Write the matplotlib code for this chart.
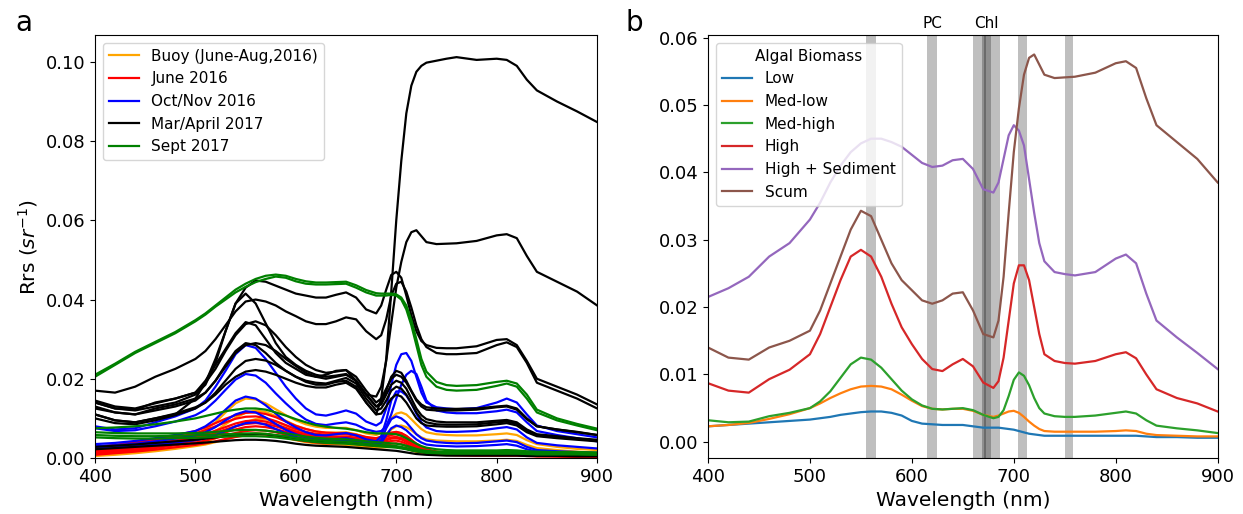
import matplotlib
matplotlib.use('Agg')
import matplotlib.pyplot as plt

# shared wavelength grid (nm)
wl = [400, 420, 440, 460, 480, 500, 510, 520, 530, 540, 550, 560, 570, 580, 590, 600, 610, 620, 630, 640,
      650, 660, 670, 680, 685, 690, 695, 700, 705, 710, 715, 720, 725, 730, 740, 750, 760, 780, 800, 810,
      820, 830, 840, 860, 880, 900]

# ---- panel b: mean spectra per algal biomass class
low = [0.0023, 0.0025, 0.0027, 0.0029, 0.0031, 0.0033, 0.0035, 0.0037, 0.0040, 0.0042, 0.0044, 0.0045, 0.0045, 0.0043, 0.0039, 0.0031, 0.0027, 0.0026, 0.0025, 0.0025,
       0.0025, 0.0023, 0.0021, 0.0021, 0.0021, 0.0020, 0.0019, 0.0018, 0.0016, 0.0014, 0.0012, 0.0011, 0.0010, 0.0009, 0.0009, 0.0009, 0.0009, 0.0009, 0.0009, 0.0009,
       0.0009, 0.0008, 0.0007, 0.0007, 0.0006, 0.0006]
medlow = [0.0023, 0.0025, 0.0028, 0.0034, 0.0041, 0.0050, 0.0057, 0.0065, 0.0072, 0.0078, 0.0082, 0.0083, 0.0082, 0.0078, 0.0070, 0.0061, 0.0053, 0.0049, 0.0048, 0.0049,
          0.0049, 0.0046, 0.0040, 0.0037, 0.0039, 0.0042, 0.0045, 0.0046, 0.0043, 0.0037, 0.0030, 0.0024, 0.0019, 0.0016, 0.0015, 0.0015, 0.0015, 0.0015, 0.0016, 0.0017,
          0.0016, 0.0012, 0.0010, 0.0009, 0.0008, 0.0008]
medhigh = [0.0032, 0.0029, 0.0030, 0.0038, 0.0043, 0.0050, 0.0060, 0.0075, 0.0095, 0.0115, 0.0125, 0.0122, 0.0110, 0.0093, 0.0076, 0.0063, 0.0054, 0.0049, 0.0048, 0.0049,
           0.0050, 0.0047, 0.0040, 0.0035, 0.0037, 0.0047, 0.0068, 0.0092, 0.0103, 0.0098, 0.0084, 0.0065, 0.0050, 0.0042, 0.0038, 0.0037, 0.0037, 0.0039, 0.0043, 0.0045,
           0.0042, 0.0032, 0.0024, 0.0020, 0.0017, 0.0013]
high = [0.0087, 0.0076, 0.0073, 0.0093, 0.0107, 0.0130, 0.0160, 0.0200, 0.0240, 0.0275, 0.0285, 0.0275, 0.0245, 0.0205, 0.0170, 0.0145, 0.0123, 0.0108, 0.0105, 0.0115,
        0.0123, 0.0112, 0.0088, 0.0080, 0.0090, 0.0125, 0.0180, 0.0235, 0.0262, 0.0262, 0.0240, 0.0200, 0.0160, 0.0130, 0.0120, 0.0117, 0.0116, 0.0120, 0.0130, 0.0133,
        0.0124, 0.0100, 0.0078, 0.0065, 0.0057, 0.0045]
high_sed = [0.0215, 0.0228, 0.0245, 0.0275, 0.0295, 0.0330, 0.0355, 0.0385, 0.0410, 0.0430, 0.0443, 0.0450, 0.0450, 0.0445, 0.0438, 0.0426, 0.0414, 0.0408, 0.0410, 0.0418,
            0.0420, 0.0405, 0.0375, 0.0370, 0.0385, 0.0420, 0.0455, 0.0470, 0.0462, 0.0440, 0.0390, 0.0340, 0.0295, 0.0268, 0.0252, 0.0249, 0.0247, 0.0252, 0.0272, 0.0278,
            0.0265, 0.0220, 0.0180, 0.0155, 0.0132, 0.0108]
scum = [0.0140, 0.0125, 0.0122, 0.0140, 0.0150, 0.0165, 0.0195, 0.0235, 0.0275, 0.0315, 0.0343, 0.0335, 0.0300, 0.0265, 0.0240, 0.0225, 0.0210, 0.0205, 0.0210, 0.0220,
        0.0222, 0.0195, 0.0160, 0.0155, 0.0180, 0.0245, 0.0340, 0.0430, 0.0495, 0.0545, 0.0570, 0.0575, 0.0560, 0.0545, 0.0540, 0.0541, 0.0542, 0.0548, 0.0562, 0.0565,
        0.0555, 0.0510, 0.0470, 0.0445, 0.0420, 0.0385]
biomass_names = ['Low', 'Med-low', 'Med-high', 'High', 'High + Sediment', 'Scum']
biomass_curves = [low, medlow, medhigh, high, high_sed, scum]

# absorption bands (nm) and their labels
bands = [(555, 565), (615, 625), (660, 678), (669, 686), (671, 673), (704, 713), (750, 758)]
band_labels = ['PC', 'Chl']
band_label_pos = [620, 673]

# ---- panel a: all field spectra per campaign
buoy = [
    [0.0020, 0.0025, 0.0030, 0.0038, 0.0048, 0.0060, 0.0072, 0.0090, 0.0115, 0.0138, 0.0150, 0.0148, 0.0138, 0.0123, 0.0108, 0.0095, 0.0085, 0.0079, 0.0076, 0.0076,
     0.0076, 0.0070, 0.0062, 0.0058, 0.0063, 0.0080, 0.0100, 0.0112, 0.0115, 0.0110, 0.0098, 0.0085, 0.0073, 0.0065, 0.0060, 0.0058, 0.0057, 0.0057, 0.0060, 0.0062,
     0.0058, 0.0045, 0.0035, 0.0028, 0.0023, 0.0020],
    [0.0012, 0.0016, 0.0021, 0.0028, 0.0036, 0.0046, 0.0055, 0.0068, 0.0085, 0.0102, 0.0114, 0.0120, 0.0116, 0.0106, 0.0094, 0.0082, 0.0073, 0.0067, 0.0064, 0.0064,
     0.0065, 0.0060, 0.0052, 0.0048, 0.0050, 0.0060, 0.0072, 0.0080, 0.0082, 0.0078, 0.0070, 0.0060, 0.0052, 0.0047, 0.0044, 0.0043, 0.0042, 0.0042, 0.0044, 0.0046,
     0.0043, 0.0033, 0.0025, 0.0020, 0.0016, 0.0013],
    [0.0008, 0.0011, 0.0015, 0.0020, 0.0026, 0.0034, 0.0040, 0.0050, 0.0064, 0.0079, 0.0091, 0.0098, 0.0098, 0.0092, 0.0082, 0.0071, 0.0062, 0.0056, 0.0053, 0.0053,
     0.0054, 0.0050, 0.0044, 0.0040, 0.0040, 0.0045, 0.0050, 0.0052, 0.0050, 0.0045, 0.0038, 0.0030, 0.0024, 0.0020, 0.0016, 0.0014, 0.0013, 0.0012, 0.0012, 0.0013,
     0.0012, 0.0010, 0.0008, 0.0007, 0.0006, 0.0005],
    [0.0005, 0.0008, 0.0012, 0.0017, 0.0023, 0.0030, 0.0034, 0.0040, 0.0047, 0.0054, 0.0059, 0.0062, 0.0061, 0.0057, 0.0051, 0.0045, 0.0040, 0.0037, 0.0035, 0.0034,
     0.0033, 0.0031, 0.0028, 0.0026, 0.0026, 0.0027, 0.0028, 0.0028, 0.0026, 0.0023, 0.0019, 0.0015, 0.0012, 0.0010, 0.0008, 0.0007, 0.0007, 0.0007, 0.0007, 0.0007,
     0.0007, 0.0006, 0.0005, 0.0005, 0.0004, 0.0004],
]
june = [
    [0.0025, 0.0030, 0.0036, 0.0044, 0.0052, 0.0062, 0.0070, 0.0080, 0.0090, 0.0099, 0.0104, 0.0105, 0.0101, 0.0093, 0.0083, 0.0073, 0.0066, 0.0061, 0.0059, 0.0059,
     0.0060, 0.0056, 0.0050, 0.0048, 0.0052, 0.0058, 0.0063, 0.0065, 0.0062, 0.0055, 0.0045, 0.0035, 0.0027, 0.0021, 0.0015, 0.0012, 0.0011, 0.0010, 0.0010, 0.0010,
     0.0010, 0.0008, 0.0007, 0.0006, 0.0005, 0.0005],
    [0.0018, 0.0023, 0.0029, 0.0036, 0.0044, 0.0053, 0.0060, 0.0069, 0.0078, 0.0087, 0.0093, 0.0095, 0.0092, 0.0085, 0.0076, 0.0067, 0.0060, 0.0055, 0.0053, 0.0053,
     0.0054, 0.0051, 0.0046, 0.0044, 0.0047, 0.0053, 0.0058, 0.0060, 0.0057, 0.0050, 0.0041, 0.0032, 0.0025, 0.0019, 0.0014, 0.0011, 0.0010, 0.0009, 0.0009, 0.0009,
     0.0009, 0.0007, 0.0006, 0.0005, 0.0005, 0.0004],
    [0.0015, 0.0020, 0.0026, 0.0033, 0.0040, 0.0049, 0.0055, 0.0063, 0.0072, 0.0080, 0.0086, 0.0088, 0.0086, 0.0080, 0.0072, 0.0064, 0.0057, 0.0052, 0.0050, 0.0050,
     0.0051, 0.0048, 0.0043, 0.0041, 0.0043, 0.0048, 0.0052, 0.0053, 0.0050, 0.0044, 0.0036, 0.0028, 0.0022, 0.0017, 0.0013, 0.0010, 0.0009, 0.0008, 0.0008, 0.0008,
     0.0008, 0.0007, 0.0006, 0.0005, 0.0004, 0.0004],
    [0.0012, 0.0017, 0.0022, 0.0029, 0.0036, 0.0044, 0.0050, 0.0057, 0.0065, 0.0072, 0.0078, 0.0080, 0.0078, 0.0073, 0.0066, 0.0059, 0.0053, 0.0049, 0.0047, 0.0047,
     0.0048, 0.0045, 0.0040, 0.0038, 0.0040, 0.0045, 0.0049, 0.0050, 0.0047, 0.0041, 0.0034, 0.0026, 0.0020, 0.0016, 0.0012, 0.0009, 0.0008, 0.0008, 0.0008, 0.0008,
     0.0008, 0.0006, 0.0005, 0.0005, 0.0004, 0.0004],
    [0.0010, 0.0014, 0.0019, 0.0025, 0.0032, 0.0039, 0.0044, 0.0050, 0.0057, 0.0063, 0.0068, 0.0070, 0.0069, 0.0065, 0.0059, 0.0053, 0.0048, 0.0045, 0.0043, 0.0043,
     0.0044, 0.0041, 0.0037, 0.0035, 0.0036, 0.0040, 0.0043, 0.0044, 0.0041, 0.0036, 0.0029, 0.0023, 0.0018, 0.0014, 0.0011, 0.0009, 0.0008, 0.0007, 0.0007, 0.0007,
     0.0007, 0.0006, 0.0005, 0.0004, 0.0004, 0.0003],
    [0.0008, 0.0012, 0.0016, 0.0021, 0.0027, 0.0033, 0.0037, 0.0042, 0.0048, 0.0053, 0.0057, 0.0060, 0.0059, 0.0056, 0.0051, 0.0046, 0.0042, 0.0039, 0.0037, 0.0037,
     0.0038, 0.0035, 0.0032, 0.0030, 0.0031, 0.0034, 0.0036, 0.0037, 0.0035, 0.0030, 0.0025, 0.0020, 0.0016, 0.0012, 0.0010, 0.0008, 0.0007, 0.0006, 0.0006, 0.0006,
     0.0006, 0.0005, 0.0004, 0.0004, 0.0003, 0.0003],
    [0.0028, 0.0033, 0.0040, 0.0048, 0.0057, 0.0068, 0.0077, 0.0088, 0.0099, 0.0108, 0.0114, 0.0115, 0.0111, 0.0103, 0.0092, 0.0081, 0.0073, 0.0067, 0.0064, 0.0063,
     0.0063, 0.0059, 0.0053, 0.0050, 0.0054, 0.0060, 0.0064, 0.0066, 0.0063, 0.0056, 0.0046, 0.0036, 0.0028, 0.0022, 0.0016, 0.0013, 0.0012, 0.0011, 0.0011, 0.0011,
     0.0011, 0.0009, 0.0008, 0.0007, 0.0006, 0.0005],
]
octnov = [
    [0.0080, 0.0072, 0.0075, 0.0090, 0.0105, 0.0125, 0.0145, 0.0180, 0.0220, 0.0262, 0.0285, 0.0278, 0.0250, 0.0215, 0.0180, 0.0150, 0.0125, 0.0110, 0.0107, 0.0113,
     0.0120, 0.0112, 0.0092, 0.0082, 0.0090, 0.0125, 0.0185, 0.0235, 0.0262, 0.0265, 0.0245, 0.0205, 0.0165, 0.0140, 0.0128, 0.0125, 0.0123, 0.0126, 0.0140, 0.0150,
     0.0140, 0.0110, 0.0082, 0.0068, 0.0060, 0.0052],
    [0.0075, 0.0068, 0.0070, 0.0080, 0.0092, 0.0108, 0.0122, 0.0145, 0.0172, 0.0198, 0.0212, 0.0208, 0.0190, 0.0163, 0.0138, 0.0115, 0.0097, 0.0086, 0.0083, 0.0087,
     0.0090, 0.0084, 0.0072, 0.0066, 0.0068, 0.0080, 0.0110, 0.0150, 0.0185, 0.0210, 0.0220, 0.0212, 0.0180, 0.0145, 0.0120, 0.0115, 0.0113, 0.0113, 0.0118, 0.0122,
     0.0115, 0.0090, 0.0068, 0.0058, 0.0050, 0.0042],
    [0.0035, 0.0038, 0.0043, 0.0050, 0.0058, 0.0068, 0.0080, 0.0098, 0.0122, 0.0145, 0.0155, 0.0150, 0.0133, 0.0112, 0.0092, 0.0077, 0.0065, 0.0058, 0.0057, 0.0060,
     0.0063, 0.0057, 0.0047, 0.0042, 0.0055, 0.0095, 0.0145, 0.0168, 0.0168, 0.0158, 0.0138, 0.0112, 0.0090, 0.0077, 0.0068, 0.0066, 0.0066, 0.0068, 0.0075, 0.0078,
     0.0072, 0.0052, 0.0038, 0.0032, 0.0028, 0.0024],
    [0.0030, 0.0032, 0.0036, 0.0042, 0.0049, 0.0057, 0.0065, 0.0078, 0.0095, 0.0110, 0.0118, 0.0115, 0.0102, 0.0086, 0.0071, 0.0060, 0.0052, 0.0047, 0.0046, 0.0048,
     0.0050, 0.0045, 0.0038, 0.0035, 0.0045, 0.0075, 0.0098, 0.0105, 0.0100, 0.0090, 0.0075, 0.0060, 0.0050, 0.0044, 0.0040, 0.0038, 0.0037, 0.0038, 0.0042, 0.0044,
     0.0040, 0.0028, 0.0020, 0.0017, 0.0015, 0.0013],
    [0.0025, 0.0027, 0.0030, 0.0034, 0.0039, 0.0045, 0.0050, 0.0058, 0.0068, 0.0080, 0.0088, 0.0090, 0.0084, 0.0073, 0.0062, 0.0053, 0.0046, 0.0042, 0.0041, 0.0043,
     0.0045, 0.0040, 0.0034, 0.0032, 0.0038, 0.0058, 0.0075, 0.0082, 0.0078, 0.0070, 0.0058, 0.0047, 0.0039, 0.0034, 0.0031, 0.0030, 0.0029, 0.0030, 0.0033, 0.0035,
     0.0031, 0.0022, 0.0016, 0.0013, 0.0011, 0.0010],
]
marapr = [
    [0.0125, 0.0115, 0.0110, 0.0125, 0.0135, 0.0150, 0.0165, 0.0195, 0.0235, 0.0270, 0.0290, 0.0285, 0.0265, 0.0240, 0.0220, 0.0205, 0.0192, 0.0185, 0.0185, 0.0192,
     0.0195, 0.0180, 0.0140, 0.0110, 0.0150, 0.0250, 0.0420, 0.0600, 0.0750, 0.0870, 0.0940, 0.0975, 0.0990, 0.0998, 0.1003, 0.1008, 0.1012, 0.1005, 0.1008, 0.1005,
     0.0990, 0.0955, 0.0928, 0.0900, 0.0875, 0.0848],
    scum,
    [0.0170, 0.0165, 0.0180, 0.0205, 0.0225, 0.0250, 0.0270, 0.0300, 0.0335, 0.0370, 0.0395, 0.0400, 0.0395, 0.0385, 0.0370, 0.0358, 0.0345, 0.0338, 0.0338, 0.0345,
     0.0355, 0.0350, 0.0320, 0.0300, 0.0310, 0.0350, 0.0410, 0.0440, 0.0445, 0.0420, 0.0380, 0.0335, 0.0300, 0.0280, 0.0265, 0.0262, 0.0262, 0.0265, 0.0285, 0.0292,
     0.0280, 0.0240, 0.0190, 0.0170, 0.0150, 0.0125],
    [0.0140, 0.0125, 0.0120, 0.0130, 0.0140, 0.0160, 0.0185, 0.0240, 0.0320, 0.0390, 0.0430, 0.0448, 0.0445, 0.0435, 0.0425, 0.0415, 0.0410, 0.0405, 0.0405, 0.0412,
     0.0418, 0.0405, 0.0375, 0.0365, 0.0385, 0.0425, 0.0462, 0.0470, 0.0455, 0.0410, 0.0360, 0.0320, 0.0295, 0.0285, 0.0278, 0.0277, 0.0277, 0.0282, 0.0298, 0.0300,
     0.0285, 0.0245, 0.0200, 0.0180, 0.0160, 0.0135],
    [0.0110, 0.0095, 0.0090, 0.0100, 0.0110, 0.0150, 0.0190, 0.0250, 0.0320, 0.0390, 0.0415, 0.0390, 0.0340, 0.0290, 0.0255, 0.0235, 0.0220, 0.0210, 0.0205, 0.0208,
     0.0212, 0.0195, 0.0160, 0.0130, 0.0140, 0.0170, 0.0205, 0.0220, 0.0215, 0.0195, 0.0170, 0.0148, 0.0135, 0.0128, 0.0125, 0.0124, 0.0124, 0.0125, 0.0130, 0.0132,
     0.0125, 0.0100, 0.0080, 0.0072, 0.0066, 0.0058],
    [0.0145, 0.0130, 0.0125, 0.0138, 0.0150, 0.0165, 0.0190, 0.0225, 0.0270, 0.0310, 0.0338, 0.0345, 0.0335, 0.0310, 0.0280, 0.0255, 0.0235, 0.0222, 0.0215, 0.0218,
     0.0222, 0.0205, 0.0170, 0.0140, 0.0150, 0.0175, 0.0200, 0.0210, 0.0205, 0.0190, 0.0168, 0.0145, 0.0130, 0.0122, 0.0120, 0.0120, 0.0120, 0.0122, 0.0128, 0.0130,
     0.0122, 0.0098, 0.0080, 0.0072, 0.0065, 0.0058],
    [0.0130, 0.0115, 0.0110, 0.0120, 0.0130, 0.0145, 0.0165, 0.0195, 0.0230, 0.0265, 0.0285, 0.0290, 0.0285, 0.0270, 0.0250, 0.0232, 0.0215, 0.0205, 0.0200, 0.0205,
     0.0210, 0.0195, 0.0160, 0.0130, 0.0135, 0.0160, 0.0185, 0.0195, 0.0190, 0.0175, 0.0150, 0.0125, 0.0108, 0.0098, 0.0092, 0.0090, 0.0090, 0.0090, 0.0094, 0.0096,
     0.0090, 0.0072, 0.0060, 0.0055, 0.0050, 0.0046],
    [0.0100, 0.0088, 0.0085, 0.0095, 0.0108, 0.0125, 0.0140, 0.0165, 0.0195, 0.0225, 0.0245, 0.0250, 0.0246, 0.0235, 0.0220, 0.0205, 0.0195, 0.0190, 0.0188, 0.0195,
     0.0202, 0.0188, 0.0150, 0.0120, 0.0125, 0.0145, 0.0170, 0.0180, 0.0175, 0.0160, 0.0138, 0.0115, 0.0098, 0.0090, 0.0085, 0.0084, 0.0084, 0.0085, 0.0090, 0.0092,
     0.0086, 0.0068, 0.0057, 0.0052, 0.0048, 0.0044],
    [0.0110, 0.0095, 0.0090, 0.0100, 0.0112, 0.0128, 0.0140, 0.0160, 0.0185, 0.0205, 0.0218, 0.0222, 0.0218, 0.0210, 0.0200, 0.0190, 0.0182, 0.0178, 0.0178, 0.0185,
     0.0190, 0.0175, 0.0140, 0.0110, 0.0112, 0.0130, 0.0150, 0.0160, 0.0155, 0.0140, 0.0120, 0.0100, 0.0088, 0.0082, 0.0080, 0.0079, 0.0079, 0.0080, 0.0085, 0.0088,
     0.0082, 0.0065, 0.0055, 0.0050, 0.0046, 0.0042],
    [0.0022, 0.0025, 0.0028, 0.0031, 0.0034, 0.0037, 0.0039, 0.0041, 0.0043, 0.0045, 0.0046, 0.0046, 0.0045, 0.0043, 0.0040, 0.0036, 0.0033, 0.0031, 0.0030, 0.0029,
     0.0028, 0.0026, 0.0024, 0.0022, 0.0021, 0.0020, 0.0019, 0.0018, 0.0016, 0.0014, 0.0012, 0.0010, 0.0009, 0.0008, 0.0007, 0.0006, 0.0006, 0.0006, 0.0006, 0.0006,
     0.0006, 0.0005, 0.0005, 0.0005, 0.0004, 0.0004],
    [0.0028, 0.0031, 0.0034, 0.0038, 0.0042, 0.0046, 0.0049, 0.0052, 0.0055, 0.0058, 0.0060, 0.0061, 0.0060, 0.0057, 0.0053, 0.0048, 0.0044, 0.0041, 0.0040, 0.0039,
     0.0039, 0.0037, 0.0034, 0.0032, 0.0031, 0.0030, 0.0029, 0.0028, 0.0026, 0.0023, 0.0020, 0.0017, 0.0015, 0.0013, 0.0012, 0.0011, 0.0011, 0.0011, 0.0011, 0.0011,
     0.0011, 0.0010, 0.0009, 0.0009, 0.0008, 0.0008],
]
sept = [
    [0.0205, 0.0235, 0.0265, 0.0290, 0.0315, 0.0345, 0.0362, 0.0382, 0.0400, 0.0418, 0.0432, 0.0444, 0.0452, 0.0458, 0.0455, 0.0446, 0.0440, 0.0438, 0.0438, 0.0439,
     0.0440, 0.0430, 0.0418, 0.0410, 0.0410, 0.0410, 0.0412, 0.0410, 0.0400, 0.0375, 0.0335, 0.0285, 0.0235, 0.0205, 0.0180, 0.0172, 0.0170, 0.0172, 0.0182, 0.0188,
     0.0180, 0.0150, 0.0115, 0.0095, 0.0082, 0.0070],
    [0.0210, 0.0238, 0.0268, 0.0293, 0.0318, 0.0348, 0.0365, 0.0385, 0.0405, 0.0425, 0.0440, 0.0452, 0.0460, 0.0463, 0.0460, 0.0452, 0.0446, 0.0443, 0.0443, 0.0444,
     0.0445, 0.0436, 0.0424, 0.0416, 0.0415, 0.0415, 0.0415, 0.0413, 0.0405, 0.0385, 0.0348, 0.0300, 0.0250, 0.0218, 0.0192, 0.0184, 0.0182, 0.0184, 0.0192, 0.0195,
     0.0188, 0.0160, 0.0122, 0.0100, 0.0086, 0.0074],
    [0.0075, 0.0077, 0.0080, 0.0085, 0.0092, 0.0100, 0.0106, 0.0112, 0.0118, 0.0122, 0.0125, 0.0125, 0.0122, 0.0115, 0.0107, 0.0098, 0.0090, 0.0083, 0.0079, 0.0076,
     0.0074, 0.0070, 0.0065, 0.0062, 0.0062, 0.0062, 0.0061, 0.0060, 0.0056, 0.0050, 0.0043, 0.0036, 0.0030, 0.0026, 0.0022, 0.0020, 0.0019, 0.0019, 0.0019, 0.0020,
     0.0019, 0.0017, 0.0016, 0.0015, 0.0015, 0.0014],
    [0.0065, 0.0063, 0.0062, 0.0062, 0.0062, 0.0063, 0.0064, 0.0066, 0.0068, 0.0070, 0.0071, 0.0071, 0.0069, 0.0066, 0.0062, 0.0058, 0.0054, 0.0051, 0.0049, 0.0048,
     0.0047, 0.0045, 0.0042, 0.0040, 0.0039, 0.0038, 0.0037, 0.0036, 0.0034, 0.0031, 0.0027, 0.0023, 0.0020, 0.0018, 0.0016, 0.0015, 0.0015, 0.0015, 0.0015, 0.0015,
     0.0015, 0.0014, 0.0013, 0.0013, 0.0012, 0.0012],
    [0.0058, 0.0056, 0.0055, 0.0055, 0.0056, 0.0057, 0.0058, 0.0059, 0.0060, 0.0061, 0.0062, 0.0062, 0.0061, 0.0058, 0.0055, 0.0051, 0.0048, 0.0045, 0.0043, 0.0042,
     0.0041, 0.0039, 0.0036, 0.0034, 0.0033, 0.0032, 0.0031, 0.0030, 0.0028, 0.0025, 0.0022, 0.0019, 0.0017, 0.0015, 0.0013, 0.0012, 0.0012, 0.0012, 0.0012, 0.0012,
     0.0012, 0.0011, 0.0010, 0.0010, 0.0010, 0.0009],
    [0.0052, 0.0050, 0.0049, 0.0049, 0.0050, 0.0051, 0.0052, 0.0053, 0.0054, 0.0055, 0.0055, 0.0055, 0.0054, 0.0052, 0.0049, 0.0046, 0.0043, 0.0040, 0.0038, 0.0037,
     0.0036, 0.0034, 0.0032, 0.0030, 0.0029, 0.0028, 0.0027, 0.0026, 0.0024, 0.0022, 0.0019, 0.0017, 0.0015, 0.0013, 0.0012, 0.0011, 0.0011, 0.0011, 0.0011, 0.0011,
     0.0011, 0.0010, 0.0009, 0.0009, 0.0009, 0.0008],
]
campaign_names = ['Buoy (June-Aug,2016)', 'June 2016', 'Oct/Nov 2016', 'Mar/April 2017', 'Sept 2017']
campaign_colors = ['orange', 'red', 'blue', 'black', 'green']
campaign_curves = [buoy, june, octnov, marapr, sept]

fig = plt.figure(figsize=(12.43, 5.14), dpi=100)
ax1 = fig.add_axes([0.0764, 0.109, 0.404, 0.823])
ax2 = fig.add_axes([0.5696, 0.109, 0.410, 0.823])

# panel a
for name, color, curves in zip(campaign_names, campaign_colors, campaign_curves):
    for i, c in enumerate(curves):
        ax1.plot(wl, c, color=color, lw=1.6, label=name if i == 0 else None)
ax1.set_xlim(400, 900)
ax1.set_ylim(0, 0.1068)
ax1.set_xticks([400, 500, 600, 700, 800, 900])
ax1.set_yticks([0.00, 0.02, 0.04, 0.06, 0.08, 0.10])
ax1.tick_params(labelsize=13)
ax1.set_xlabel('Wavelength (nm)', fontsize=14.5)
ax1.set_ylabel('Rrs ($sr^{-1}$)', fontsize=14.5)
ax1.legend(loc='upper left', fontsize=11)

# panel b
for lo, hi in bands:
    ax2.axvspan(lo, hi, color='k', alpha=0.25, lw=0)
for name, c in zip(biomass_names, biomass_curves):
    ax2.plot(wl, c, lw=1.6, label=name)
ax2.set_xlim(400, 900)
ax2.set_ylim(-0.0024, 0.0604)
ax2.set_xticks([400, 500, 600, 700, 800, 900])
ax2.tick_params(labelsize=13)
ax2.set_xlabel('Wavelength (nm)', fontsize=14.5)
for lab, x in zip(band_labels, band_label_pos):
    ax2.text(x, 1.01, lab, transform=ax2.get_xaxis_transform(), ha='center', va='bottom', fontsize=11)
ax2.legend(loc='upper left', fontsize=11, title='Algal Biomass', title_fontsize=11)

fig.text(0.012, 0.955, 'a', fontsize=20, va='center')
fig.text(0.503, 0.955, 'b', fontsize=20, va='center')

fig.savefig('out.png', dpi=100)
